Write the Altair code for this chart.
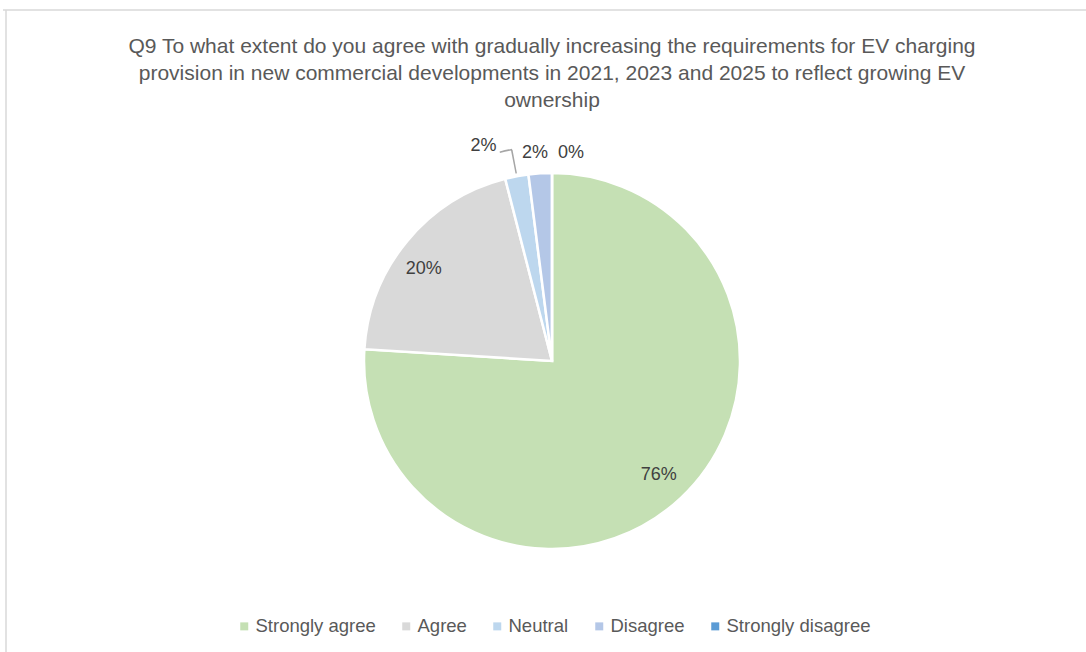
import altair as alt
import pandas as pd

categories = ["Strongly agree", "Agree", "Neutral", "Disagree", "Strongly disagree"]
values = [76, 20, 2, 2, 0]
labels = ["76%", "20%", "2%", "2%", "0%"]
colors = ["#C5E0B4", "#D9D9D9", "#BDD7EE", "#B4C7E7", "#5B9BD5"]
title_lines = [
    "Q9 To what extent do you agree with gradually increasing the requirements for EV charging",
    "provision in new commercial developments in 2021, 2023 and 2025 to reflect growing EV",
    "ownership",
]

FONT = "Liberation Sans"
df = pd.DataFrame({"category": categories, "value": values, "label": labels,
                   "order": list(range(len(categories)))})

theta_scale = alt.Scale(domain=[0, 100])

base = (
    alt.Chart(df)
    .transform_window(cum="sum(value)", sort=[alt.SortField("order")], frame=[None, 0])
    .transform_calculate(start="datum.cum - datum.value", mid="datum.cum - datum.value / 2")
)

pie = base.mark_arc(outerRadius=188, stroke="white", strokeWidth=2.5).encode(
    theta=alt.Theta("start:Q", scale=theta_scale),
    theta2="cum:Q",
    color=alt.Color(
        "category:N",
        scale=alt.Scale(domain=categories, range=colors),
        legend=alt.Legend(
            title=None, orient="none", direction="horizontal",
            legendX=217, legendY=547,
            symbolType="square", symbolSize=64, symbolStrokeWidth=0,
            labelFont=FONT, labelFontSize=18.5, labelColor="#595959",
            labelOffset=2, columnPadding=21,
        ),
    ),
)

text_props = dict(font=FONT, fontSize=18, color="#404040")

lab_big1 = base.transform_filter("datum.category == 'Strongly agree'").mark_text(
    radius=156, **text_props).encode(theta=alt.Theta("mid:Q", scale=theta_scale), text="label:N")
lab_big2 = base.transform_filter("datum.category == 'Agree'").mark_text(
    radius=156, dx=-8, dy=7, **text_props).encode(theta=alt.Theta("mid:Q", scale=theta_scale), text="label:N")

lab_neutral = base.transform_filter("datum.category == 'Neutral'").mark_text(
    radius=216, dx=-28, dy=-3, **text_props).encode(theta=alt.Theta("mid:Q", scale=theta_scale), text="label:N")
lab_dis = base.transform_filter("datum.category == 'Disagree'").mark_text(
    radius=208, dx=-4, **text_props).encode(theta=alt.Theta("mid:Q", scale=theta_scale), text="label:N")
lab_sdis = base.transform_filter("datum.category == 'Strongly disagree'").mark_text(
    radius=208, dx=19, **text_props).encode(theta=alt.Theta("mid:Q", scale=theta_scale), text="label:N")

leader_base = base.transform_filter("datum.category == 'Neutral'").transform_calculate(
    a1="datum.mid - 0.06", a2="datum.mid + 0.06", h1="datum.mid - 0.9", h2="datum.mid + 0.03")
leader_radial = leader_base.mark_arc(innerRadius=191, outerRadius=215, color="#A6A6A6").encode(
    theta=alt.Theta("a1:Q", scale=theta_scale), theta2="a2:Q")
leader_horiz = leader_base.mark_arc(innerRadius=214.5, outerRadius=216, color="#A6A6A6").encode(
    theta=alt.Theta("h1:Q", scale=theta_scale), theta2="h2:Q")

frame_df = pd.DataFrame({"k": [0]})
frame_top = alt.Chart(frame_df).mark_rule(color="#D9D9D9", strokeWidth=1.5).encode(
    x=alt.value(-15), x2=alt.value(1068), y=alt.value(-60))
frame_left = alt.Chart(frame_df).mark_rule(color="#D9D9D9", strokeWidth=1.5).encode(
    x=alt.value(-12), y=alt.value(-60), y2=alt.value(582))

chart = (
    alt.layer(frame_top, frame_left, pie, leader_radial, leader_horiz,
              lab_big1, lab_big2, lab_neutral, lab_dis, lab_sdis)
    .properties(
        width=1068, height=582,
        padding={"left": 18, "top": 70, "right": 0, "bottom": 0},
        autosize="none",
        title=alt.Title(
            text=title_lines, anchor="middle", font=FONT, fontSize=21,
            fontWeight="normal", color="#595959", lineHeight=27,
            offset=-44, dy=58,
        ),
    )
    .configure_view(stroke=None)
)

chart.save("out.html", embed_options={"renderer": "svg", "actions": False})
